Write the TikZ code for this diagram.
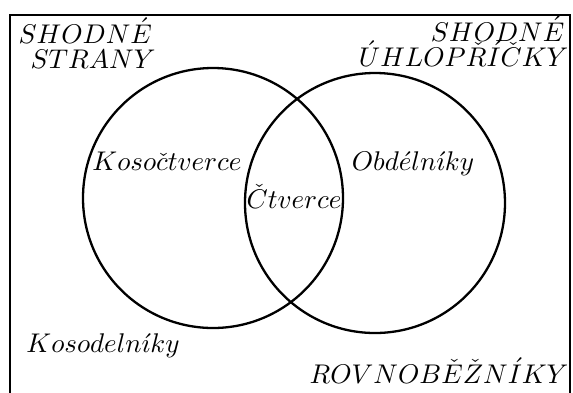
\documentclass[tikz,border=0pt]{standalone}
\usepackage{amsmath,amssymb}
\usepackage{tikz}
\usetikzlibrary{positioning}
\tikzset{
	setline/.style={line width=0.85pt},
	frameline/.style={line width=0.75pt},
	setlabel/.style={inner sep=0pt, anchor=base},
}

\begin{document}
\begin{tikzpicture}[x=0.37pt, y=-0.37pt]
	\useasboundingbox (0,0) rectangle (573,392);
	
	%% -- Outer frame (parallelograms)
	\begin{scope}
		\clip (0,0) rectangle (573,392);
		\draw[frameline] (10,15) rectangle (570,420);
	\end{scope}
	
	%% -- The two sets
	\coordinate (cl) at (213,198);
	\coordinate (cr) at (375,203);
	\draw[setline] (cl) circle[radius=130];
	\draw[setline] (cr) circle[radius=130];
	
	%% -- Corner captions
	\node[setlabel, anchor=base west] (sl1) at (18,43) {$SHODN\acute{E}$};
	\node[setlabel, anchor=base west] (sl2) at (30,68) {$STRANY$};
	\node[setlabel, anchor=base east] (sr1) at (565,41) {$SHODN\acute{E}$};
	\node[setlabel, anchor=base east] (sr2) at (569,66) {$\acute{U}HLOP\check{R}\acute{I}\check{C}KY$};
	
	%% -- Set names
	\node[setlabel] (koso) at (167,170) {$Koso\check{c}tverce$};
	\node[setlabel] (obd) at (413,170) {$Obd\acute{e}ln\acute{\imath}ky$};
	\node[setlabel] (ctv) at (294,208) {$\check{C}tverce$};
	\node[setlabel] (kosod) at (103,352) {$Kosodeln\acute{\imath}ky$};
	\node[setlabel, anchor=base east] (rovn) at (569,383) {$ROVNOB\check{E}\check{Z}N\acute{I}KY$};
	
\end{tikzpicture}
\end{document}
